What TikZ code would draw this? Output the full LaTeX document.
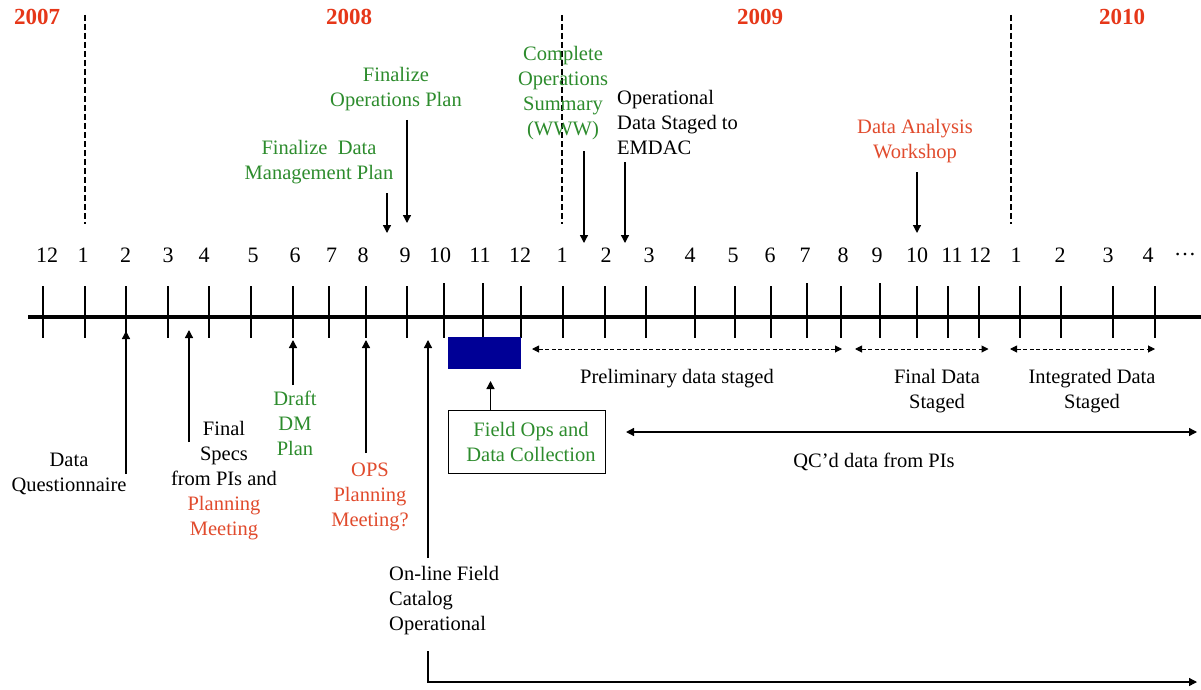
\documentclass[tikz,border=0pt]{standalone}
\usepackage{fontspec}
\setmainfont{Liberation Serif}
\usetikzlibrary{arrows.meta}
\definecolor{tgreen}{RGB}{45,140,45}
\definecolor{tred}{RGB}{225,75,45}
\definecolor{yred}{RGB}{230,55,25}
\definecolor{navybox}{RGB}{0,0,150}
\begin{document}
\begin{tikzpicture}[x=1pt,y=-1pt,
  txt/.style={font=\fontsize{20.5}{25}\selectfont, inner sep=0pt, align=center},
  mon/.style={font=\fontsize{22}{26}\selectfont, inner sep=0pt},
  yr/.style={font=\fontsize{23}{27}\selectfont\bfseries, text=yred, inner sep=0pt},
  arr/.style={line width=1.3pt, -{Triangle[length=8pt,width=8pt]}},
  dbl/.style={line width=1.3pt, {Triangle[length=8pt,width=8pt]}-{Triangle[length=8pt,width=8pt]}},
  darr/.style={line width=1pt, dash pattern=on 4pt off 2.5pt, {Triangle[length=7pt,width=7pt]}-{Triangle[length=7pt,width=7pt]}},
  tickline/.style={line width=1.2pt},
  yline/.style={line width=1.1pt, dash pattern=on 6pt off 3pt},
]
\useasboundingbox (0,0) rectangle (1201,690);
\fill[white] (0,0) rectangle (1201,690);

% years
\node[yr] (y2007) at (37,17) {2007};
\node[yr] (y2008) at (349,17) {2008};
\node[yr] (y2009) at (760,17) {2009};
\node[yr] (y2010) at (1122,17) {2010};

% year separators
\coordinate (s1t) at (85,15);   \coordinate (s1b) at (85,224);
\coordinate (s2t) at (562,15);  \coordinate (s2b) at (562,224);
\coordinate (s3t) at (1011,15); \coordinate (s3b) at (1011,224);
\draw[yline] (s1t) -- (s1b);
\draw[yline] (s2t) -- (s2b);
\draw[yline] (s3t) -- (s3b);

% month labels
\foreach \x/\t [count=\i] in {47/12, 83/1, 125.7/2, 168/3, 204/4, 253/5, 295/6, 331.7/7, 363/8, 405/9, 440/10, 480/11, 520/12, 562/1, 606/2, 649/3, 690/4, 733/5, 770/6, 805/7, 843/8, 877/9, 917/10, 952/11, 980/12, 1016/1, 1060/2, 1108/3, 1148/4, 1185/…}
  \node[mon] (ml\i) at (\x,255) {\t};

% axis
\coordinate (axL) at (28,317);
\coordinate (axR) at (1201,317);
\draw[line width=4pt] (axL) -- (axR);
\foreach \x in {43, 85, 126, 168, 209, 251, 293, 329, 366, 407, 521, 563, 605, 646, 695, 735, 771, 841, 917, 948, 979, 1020, 1061, 1113, 1155}
  \draw[tickline] (\x,286) -- (\x,338);
\foreach \x in {444, 483, 807, 880}
  \draw[tickline] (\x,283) -- (\x,338);

% top events
\node[txt, text=tgreen] (fop) at (396,89) {Finalize\\Operations Plan};
\coordinate (fopA) at (407,120); \coordinate (fopB) at (407,223);
\draw[arr] (fopA) -- (fopB);

\node[txt, text=tgreen] (fdm) at (319,162) {Finalize\ \ Data\\Management Plan};
\coordinate (fdmA) at (387,193); \coordinate (fdmB) at (387,233);
\draw[arr] (fdmA) -- (fdmB);

\node[txt, text=tgreen] (cos) at (563,93.5) {Complete\\Operations\\Summary\\(WWW)};
\coordinate (cosA) at (584,151); \coordinate (cosB) at (584,243);
\draw[arr] (cosA) -- (cosB);

\node[txt, align=left, anchor=west] (ods) at (617,122) {Operational\\Data Staged to\\EMDAC};
\coordinate (odsA) at (625,162); \coordinate (odsB) at (625,243);
\draw[arr] (odsA) -- (odsB);

\node[txt, text=tred] (daw) at (915,141) {Data Analysis\\Workshop};
\coordinate (dawA) at (917,172); \coordinate (dawB) at (917,233);
\draw[arr] (dawA) -- (dawB);

% bottom events
\node[txt] (dq) at (69,473.5) {Data\\Questionnaire};
\coordinate (dqA) at (126,474); \coordinate (dqB) at (126,331);
\draw[arr] (dqA) -- (dqB);

\node[txt] (fs) at (224,480.5) {Final\\Specs\\from PIs and\\\textcolor{tred}{Planning}\\\textcolor{tred}{Meeting}};
\coordinate (fsA) at (189,442); \coordinate (fsB) at (189,330);
\draw[arr] (fsA) -- (fsB);

\node[txt, text=tgreen] (ddm) at (295,423.5) {Draft\\DM\\Plan};
\coordinate (ddmA) at (293,385); \coordinate (ddmB) at (293,340);
\draw[arr] (ddmA) -- (ddmB);

\node[txt, text=tred] (ops) at (370,497) {OPS\\Planning\\Meeting?};
\coordinate (opsA) at (366,453); \coordinate (opsB) at (366,340);
\draw[arr] (opsA) -- (opsB);

\node[txt, align=left, anchor=west] (olf) at (389,601) {On-line Field\\Catalog\\Operational};
\coordinate (olfA) at (428,558); \coordinate (olfB) at (428,340);
\draw[arr] (olfA) -- (olfB);
\coordinate (olfC) at (428,651); \coordinate (olfD) at (428,682); \coordinate (olfE) at (1197,682);
\draw[arr] (olfC) -- (olfD) -- (olfE);

% field ops
\node[fill=navybox, inner sep=0pt, minimum width=72.5pt, minimum height=32pt] (blue) at (484.5,353) {};
\node[draw, line width=1.2pt, inner sep=0pt, minimum width=156.5pt, minimum height=63pt, txt, text=tgreen] (fobox) at (527,442.3) {\hspace*{8pt}Field Ops and\\\hspace*{8pt}Data Collection};
\coordinate (foA) at (490.5,410.7); \coordinate (foB) at (490.5,381);
\draw[arr] (foA) -- (foB);

% staging ranges
\coordinate (p1) at (532,349); \coordinate (p2) at (842,349);
\coordinate (f1) at (855,349); \coordinate (f2) at (988.5,349);
\coordinate (i1) at (1010,349); \coordinate (i2) at (1155,349);
\draw[darr] (p1) -- (p2);
\draw[darr] (f1) -- (f2);
\draw[darr] (i1) -- (i2);
\node[txt] (pds) at (677,379) {Preliminary data staged};
\node[txt] (fds) at (937,391) {Final Data\\Staged};
\node[txt] (ids) at (1092,391) {Integrated Data\\Staged};

% QC'd data
\coordinate (q1) at (626,432); \coordinate (q2) at (1197,432);
\draw[dbl] (q1) -- (q2);
\node[txt] (qc) at (874,462) {QC’d data from PIs};
\end{tikzpicture}
\end{document}
